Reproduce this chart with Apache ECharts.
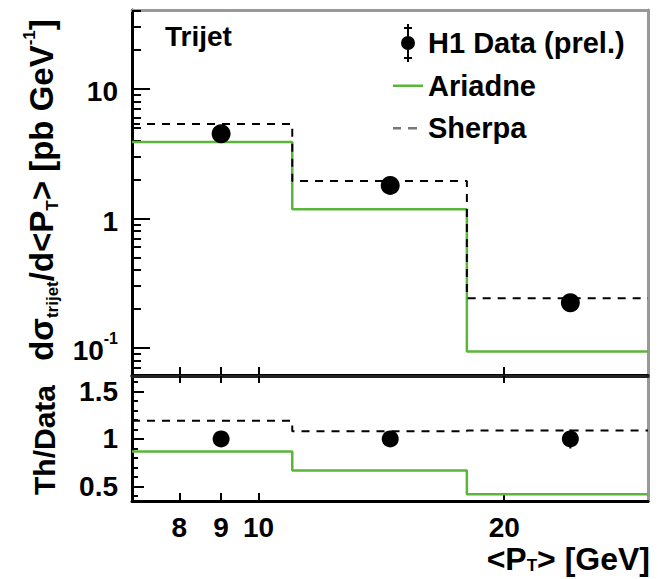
<!DOCTYPE html>
<html>
<head>
<meta charset="utf-8">
<script src="https://cdn.jsdelivr.net/npm/echarts@6/dist/echarts.min.js"></script>
<style>
html,body{margin:0;padding:0;background:#fff;}
#chart{width:658px;height:579px;}
</style>
</head>
<body>
<div id="chart"></div>
<script>
// ---- data ----
const binEdges = [7, 11, 18, 30];
const dataX = [9, 14.5, 24.1];
const dataY = [4.5, 1.8, 0.223];
const dataErr = [0.13, 0.07, 0.022];
const ariadneY = [3.9, 1.18, 0.094];
const sherpaY = [5.37, 1.95, 0.242];
const ratioData = [1, 1, 1];
const ratioErr = [0.03, 0.04, 0.1];
const ariadneRatio = [0.87, 0.67, 0.42];
const sherpaRatio = [1.19, 1.08, 1.09];
const xTicks = [8, 9, 10, 20];
const yMajorTicks = [0.1, 1, 10];
const yMinorTicks = [0.07, 0.08, 0.09, 0.2, 0.3, 0.4, 0.5, 0.6, 0.7, 0.8, 0.9, 2, 3, 4, 5, 6, 7, 8, 9, 20, 30, 40];
const rMajorTicks = [0.5, 1, 1.5];
const rMinorTicks = [0.4, 0.6, 0.7, 0.8, 0.9, 1.1, 1.2, 1.3, 1.4, 1.6];

const FONT = '"Liberation Sans", Arial, Helvetica, sans-serif';
const GREEN = '#5bb53b';

function steps(vals) {
  return binEdges.map((e, i) => [e, vals[Math.min(i, vals.length - 1)]]);
}
function points(xs, ys, errs) {
  return xs.map((x, i) => [x, ys[i], ys[i] - errs[i], ys[i] + errs[i]]);
}
function errRender(params, api) {
  const lo = api.coord([api.value(0), api.value(2)]);
  const hi = api.coord([api.value(0), api.value(3)]);
  return {
    type: 'line',
    shape: { x1: lo[0], y1: lo[1], x2: hi[0], y2: hi[1] },
    style: { stroke: '#000', lineWidth: 2 }
  };
}

const chart = echarts.init(document.getElementById('chart'), null, { renderer: 'svg' });

const xBase = { type: 'log', logBase: 10, min: 7, max: 30 };
const hidden = { axisLabel: { show: false }, axisTick: { show: false }, splitLine: { show: false } };
// bbox helpers so each legend path fills a 30x38 box
const BOX = 'M0,0 L0.01,0 L0,0.01 Z M30,38 L29.99,38 L30,37.99 Z ';

const option = {
  animation: false,
  backgroundColor: '#fff',
  grid: [
    { left: 132, top: 10, width: 516, height: 365 },
    { left: 132, top: 376, width: 516, height: 125 }
  ],
  legend: {
    orient: 'vertical',
    left: 393, top: 24, padding: 0,
    itemWidth: 30, itemHeight: 38, itemGap: 4.5,
    textStyle: { fontFamily: FONT, fontWeight: 'bold', fontSize: 29, color: '#000' },
    data: [
      { name: 'H1 Data (prel.)', itemStyle: { color: '#000', opacity: 1 },
        icon: 'path://' + BOX + 'M14,0 L16,0 L16,38 L14,38 Z M11,3 L19,3 L19,5 L11,5 Z M11,33 L19,33 L19,35 L11,35 Z M22,19 A7,7 0 1 1 8,19 A7,7 0 1 1 22,19 Z' },
      { name: 'Ariadne', itemStyle: { color: GREEN },
        icon: 'path://' + BOX + 'M0,18 L30,18 L30,20.5 L0,20.5 Z' },
      { name: 'Sherpa', itemStyle: { color: '#777' },
        icon: 'path://' + BOX + 'M0,18 L8,18 L8,20.5 L0,20.5 Z M15,18 L24,18 L24,20.5 L15,20.5 Z' }
    ]
  },
  xAxis: [
    Object.assign({}, xBase, { gridIndex: 0, position: 'bottom',
      axisLine: { show: true, lineStyle: { color: '#000', width: 3 } },
      axisTick: { show: true, inside: true, length: 8, customValues: xTicks, lineStyle: { color: '#000', width: 2 } },
      axisLabel: { show: false }, splitLine: { show: false } }),
    Object.assign({}, xBase, hidden, { gridIndex: 0, position: 'top',
      axisLine: { show: true, onZero: false, lineStyle: { color: '#999', width: 3 } } }),
    Object.assign({}, xBase, { gridIndex: 1, position: 'bottom',
      axisLine: { show: true, lineStyle: { color: '#000', width: 3 } },
      axisTick: { show: true, inside: true, length: 8, customValues: xTicks, lineStyle: { color: '#000', width: 2 } },
      axisLabel: { show: true, customValues: xTicks, margin: 12, fontFamily: FONT, fontWeight: 'bold', fontSize: 28, color: '#000' },
      splitLine: { show: false } }),
    Object.assign({}, xBase, { gridIndex: 1, position: 'top',
      axisLine: { show: true, onZero: false, lineStyle: { color: '#222', width: 3 } },
      axisTick: { show: true, inside: true, length: 7, customValues: xTicks, lineStyle: { color: '#000', width: 2 } },
      axisLabel: { show: false }, splitLine: { show: false } })
  ],
  yAxis: [
    { type: 'log', logBase: 10, min: 0.0618, max: 40.7, gridIndex: 0, position: 'left',
      axisLine: { show: true, lineStyle: { color: '#000', width: 3 } },
      axisTick: { show: true, inside: true, length: 18, customValues: yMajorTicks, lineStyle: { color: '#000', width: 2 } },
      axisLabel: { show: true, customValues: yMajorTicks, margin: 14, fontFamily: FONT, fontWeight: 'bold', fontSize: 28, color: '#000',
        formatter: v => (Math.abs(v - 0.1) < 1e-9 ? '{b|10}{s|-1}' : '{b|' + v + '}'),
        rich: { b: { fontFamily: FONT, fontWeight: 'bold', fontSize: 28, lineHeight: 34, verticalAlign: 'bottom' },
                s: { fontFamily: FONT, fontWeight: 'bold', fontSize: 16, lineHeight: 16, verticalAlign: 'top' } } },
      splitLine: { show: false } },
    { type: 'log', logBase: 10, min: 0.0618, max: 40.7, gridIndex: 0, position: 'left',
      axisLine: { show: false },
      axisTick: { show: true, inside: true, length: 9, customValues: yMinorTicks, lineStyle: { color: '#000', width: 2 } },
      axisLabel: { show: false }, splitLine: { show: false } },
    { type: 'log', logBase: 10, min: 0.0618, max: 40.7, gridIndex: 0, position: 'right',
      axisLine: { show: true, lineStyle: { color: '#999', width: 3 } }, axisTick: { show: false }, axisLabel: { show: false }, splitLine: { show: false } },
    { type: 'value', min: 0.35, max: 1.66, gridIndex: 1, position: 'left',
      axisLine: { show: true, lineStyle: { color: '#000', width: 3 } },
      axisTick: { show: true, inside: true, length: 12, customValues: rMajorTicks, lineStyle: { color: '#000', width: 2 } },
      axisLabel: { show: true, customValues: rMajorTicks, margin: 14, fontFamily: FONT, fontWeight: 'bold', fontSize: 28, color: '#000' },
      splitLine: { show: false } },
    { type: 'value', min: 0.35, max: 1.66, gridIndex: 1, position: 'left',
      axisLine: { show: false },
      axisTick: { show: true, inside: true, length: 6, customValues: rMinorTicks, lineStyle: { color: '#000', width: 2 } },
      axisLabel: { show: false }, splitLine: { show: false } },
    { type: 'value', min: 0.35, max: 1.66, gridIndex: 1, position: 'right',
      axisLine: { show: true, lineStyle: { color: '#999', width: 3 } }, axisTick: { show: false }, axisLabel: { show: false }, splitLine: { show: false } }
  ],
  series: [
    { name: 'Ariadne', type: 'line', xAxisIndex: 0, yAxisIndex: 0, step: 'end', symbol: 'none', data: steps(ariadneY),
      lineStyle: { color: GREEN, width: 2.5 }, itemStyle: { color: GREEN }, z: 3 },
    { name: 'Sherpa', type: 'line', xAxisIndex: 0, yAxisIndex: 0, step: 'end', symbol: 'none', data: steps(sherpaY),
      lineStyle: { color: '#000', width: 2, type: [8, 7] }, itemStyle: { color: '#000' }, z: 4 },
    { name: 'errUp', type: 'custom', xAxisIndex: 0, yAxisIndex: 0, renderItem: errRender, data: points(dataX, dataY, dataErr), z: 5 },
    { name: 'H1 Data (prel.)', type: 'scatter', xAxisIndex: 0, yAxisIndex: 0, symbol: 'circle', symbolSize: 19,
      data: dataX.map((x, i) => [x, dataY[i]]), itemStyle: { color: '#000', opacity: 1 }, z: 6 },
    { name: 'Ariadne', type: 'line', xAxisIndex: 2, yAxisIndex: 3, step: 'end', symbol: 'none', data: steps(ariadneRatio),
      lineStyle: { color: GREEN, width: 2.5 }, itemStyle: { color: GREEN }, z: 3 },
    { name: 'Sherpa', type: 'line', xAxisIndex: 2, yAxisIndex: 3, step: 'end', symbol: 'none', data: steps(sherpaRatio),
      lineStyle: { color: '#000', width: 2, type: [8, 7] }, itemStyle: { color: '#000' }, z: 4 },
    { name: 'errLow', type: 'custom', xAxisIndex: 2, yAxisIndex: 3, renderItem: errRender, data: points(dataX, ratioData, ratioErr), z: 5 },
    { name: 'H1 Data (prel.)', type: 'scatter', xAxisIndex: 2, yAxisIndex: 3, symbol: 'circle', symbolSize: 17,
      data: dataX.map((x, i) => [x, ratioData[i]]), itemStyle: { color: '#000', opacity: 1 }, z: 6 }
  ],
  graphic: [
    { type: 'text', left: 165, top: 22, style: { text: 'Trijet', fontFamily: FONT, fontWeight: 'bold', fontSize: 28, fill: '#000' } },
    { type: 'text', x: 41, y: 190, rotation: Math.PI / 2,
      style: { text: '{m|dσ}{s|trijet}{m|/d<P}{s|T}{m|> [pb GeV}{p|-1}{m|]}', align: 'center', verticalAlign: 'middle',
        rich: { m: { fontFamily: FONT, fontWeight: 'bold', fontSize: 33, lineHeight: 40, verticalAlign: 'middle' },
                s: { fontFamily: FONT, fontWeight: 'bold', fontSize: 17, lineHeight: 17, verticalAlign: 'bottom' },
                p: { fontFamily: FONT, fontWeight: 'bold', fontSize: 17, lineHeight: 17, verticalAlign: 'top' } } } },
    { type: 'text', x: 44, y: 440, rotation: Math.PI / 2,
      style: { text: 'Th/Data', align: 'center', verticalAlign: 'middle', fontFamily: FONT, fontWeight: 'bold', fontSize: 30, fill: '#000' } },
    { type: 'text', x: 650, y: 559,
      style: { text: '{m|<P}{s|T}{m|> [GeV]}', align: 'right', verticalAlign: 'middle',
        rich: { m: { fontFamily: FONT, fontWeight: 'bold', fontSize: 32, lineHeight: 30, verticalAlign: 'middle' },
                s: { fontFamily: FONT, fontWeight: 'bold', fontSize: 17, lineHeight: 17, verticalAlign: 'bottom' } } } }
  ]
};
chart.setOption(option);
</script>
</body>
</html>
